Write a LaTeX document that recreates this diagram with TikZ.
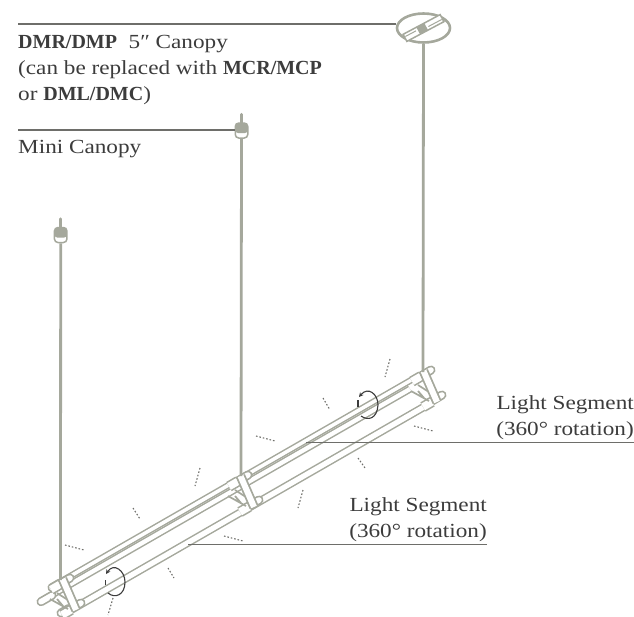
\documentclass[tikz,border=0pt]{standalone}
\usepackage{fontspec}
\setmainfont{Liberation Serif}[FakeStretch=1.16,BoldFeatures={FakeStretch=1.0}]
\usetikzlibrary{arrows.meta,shapes.geometric}
\definecolor{bar}{HTML}{A5A89C}
\definecolor{ink}{HTML}{3C3C3C}
\definecolor{lead}{HTML}{6E6E6A}
\tikzset{
 rod/.style={draw=bar,line width=2.8pt},
 leader/.style={draw=lead,line width=1.1pt},
 tube/.style={draw=bar,double=white,line width=1.5pt,double distance=3.5pt},
 midtube/.style={draw=bar,double=white,line width=1.5pt,double distance=4.3pt},
 lowtube/.style={draw=bar,double=white,line width=1.5pt,double distance=5.2pt},
 stub/.style={draw=bar,double=white,line width=1.7pt,double distance=5.6pt,line cap=round},
 collar/.style={draw=bar,double=white,line width=1.6pt,double distance=7.5pt},
 yokeband/.style={draw=bar,double=white,line width=1.8pt,double distance=6pt},
 ray/.style={draw=lead,line width=1.1pt,dash pattern=on 1.6pt off 1.9pt},
 spin/.style={draw=ink,line width=1.1pt},
 lbl/.style={text=ink,font=\fontsize{20}{24}\selectfont,inner sep=0pt},
}
\newcommand{\assembly}[2]{%
 \begin{scope}[shift={(#1,#2)}]
  \draw[stub] (421,376) -- (431,370);
  \draw[stub] (432,401) -- (442,395);
  \draw[collar] (412,381.5) -- (421,376.3);
  \draw[collar] (423,407) -- (432,401.8);
  \draw[bar,line width=1.7pt] (411,391) -- (429,401) (418,385) -- (432,394) (418,391) -- (424,398);
  \draw[yokeband] (423.5,371) -- (437,402);
 \end{scope}}
\newcommand{\minicanopy}[3]{%
 \node[draw=bar,fill=white,line width=1.5pt,rounded corners=3.5pt,minimum width=12.5pt,minimum height=15pt,inner sep=0pt] (#3) at (#1,#2) {};
 \fill[bar,rounded corners=2.5pt] (#1-6,#2-7) rectangle (#1+6,#2+2.5);
 \draw[bar,line width=3.4pt,line cap=round] (#1,#2-16) -- (#1,#2-6);}
\begin{document}
\begin{tikzpicture}[x=1pt,y=-1pt]
\useasboundingbox (0,0) rectangle (634,616);
% rods
\coordinate (rodA) at (423,372);
\coordinate (rodB) at (241,476);
\coordinate (rodC) at (60.5,580);
% bars
\draw[midtube] (44,599.4) -- (410,389);
\draw[tube] (60,582) -- (417,376.7);
\draw[lowtube] (68,611.6) -- (425,406.3);
\draw[stub] (41,601.7) -- (52,595.4);
\draw[stub] (52,587.7) -- (60,583);
\draw[stub] (61,613) -- (69,608.4);
\assembly{-361}{208}
\assembly{-183}{105}
\assembly{0}{0}
% canopies
\node[draw=bar,ellipse,line width=2.6pt,minimum width=53pt,minimum height=29pt,inner sep=0pt] (canA) at (423.5,28) {};
\begin{scope}[shift={(423.5,28)},rotate=28]
 \draw[bar,line width=1.5pt,fill=white] (-21,-4) rectangle (21,4);
 \fill[bar] (-6,-4) rectangle (3,4);
 \draw[bar,line width=1pt] (-20,-1) -- (-8,-1) (5,1) -- (20,1);
\end{scope}
\minicanopy{241.5}{130.5}{canB}
\minicanopy{60.7}{235}{canC}
\draw[rod] (canA.south) -- (rodA);
\draw[rod] (canB.south) -- (rodB);
\draw[rod] (canC.south) -- (rodC);
% leaders
\coordinate (la) at (18,24);
\coordinate (lb) at (18,130);
\coordinate (lc) at (634,442.7);
\coordinate (lc2) at (306,442.7);
\coordinate (ld) at (487,544.5);
\coordinate (ld2) at (188,544.5);
\draw[leader] (la) -- (canA.west |- la);
\draw[leader] (lb) -- (canB.west |- lb);
\draw[leader] (lc) -- (lc2);
\draw[leader] (ld) -- (ld2);
% text
\node[lbl,anchor=base west] (t1) at (18,48) {\textbf{DMR/DMP}\ \ 5″ Canopy};
\node[lbl,anchor=base west] (t2) at (18,74) {(can be replaced with \textbf{MCR/MCP}};
\node[lbl,anchor=base west] (t3) at (18,100) {or \textbf{DML/DMC})};
\node[lbl,anchor=base west] (t4) at (18,153) {Mini Canopy};
\node[lbl,anchor=base east] (t5) at (634,409) {Light Segment};
\node[lbl,anchor=base east] (t6) at (634,435) {(360° rotation)};
\node[lbl,anchor=base east] (t7) at (487,511) {Light Segment};
\node[lbl,anchor=base east] (t8) at (487,537) {(360° rotation)};
% rays
\foreach \a/\b/\c/\d in {390/359/385/377, 414/426/433/431, 323/398/330/410, 256/436/275/441, 200/468/195/486, 303/490/298/508, 358/458/365/468, 133/508/140/519, 224/536/243/541, 65/545/84/550, 168/568/174/578, 113/598/108/615}
 \draw[ray] (\a,\b) -- (\c,\d);
% rotation marks
\draw[spin,-{Stealth[length=4.5pt,width=4.5pt]}] (361,416) .. controls (368,421) and (377,419) .. (378,405) .. controls (378,394) and (368,386) .. (359,397);
\draw[spin] (358,400) -- (358,407);
\draw[spin,-{Stealth[length=4.5pt,width=4.5pt]}] (108,593) .. controls (115,599) and (125,595) .. (125,582) .. controls (125,571) and (114,562) .. (106,574);
\draw[spin] (105.7,580) -- (105.7,585);
\end{tikzpicture}
\end{document}
